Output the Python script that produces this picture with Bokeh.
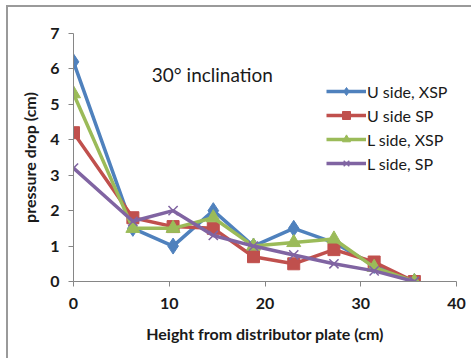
from bokeh.plotting import figure
from bokeh.models import Range1d, Label, Legend, LegendItem, FixedTicker
from bokeh.embed import file_html
from bokeh.resources import INLINE

height_cm = [0, 6.2, 10.4, 14.6, 18.8, 23.0, 27.2, 31.4, 35.6]
u_side_xsp = [6.2, 1.5, 1.0, 2.0, 1.0, 1.5, 1.1, 0.45, 0.0]
u_side_sp = [4.2, 1.8, 1.55, 1.5, 0.7, 0.5, 0.9, 0.55, 0.0]
l_side_xsp = [5.3, 1.5, 1.5, 1.8, 1.0, 1.1, 1.2, 0.4, 0.0]
l_side_sp = [3.2, 1.7, 2.0, 1.3, 1.0, 0.75, 0.5, 0.3, 0.0]
series_names = ["U side, XSP", "U side SP", "L side, XSP", "L side, SP"]
x_ticks = [0, 10, 20, 30, 40]
y_ticks = [0, 1, 2, 3, 4, 5, 6, 7]

FONT = "Lato"

p = figure(width=471, height=358, output_backend="svg", toolbar_location=None,
           x_range=Range1d(0, 40), y_range=Range1d(0, 7),
           min_border_left=73, min_border_right=15, min_border_top=33, min_border_bottom=77)
p.outline_line_color = None
p.xgrid.visible = False
p.ygrid.visible = False
p.border_fill_color = None
p.styles = {
    "background": "linear-gradient(#9a9a9a, #9a9a9a) 7px 5px / 480px 2px no-repeat, "
                  "linear-gradient(#9a9a9a, #9a9a9a) 6px 5px / 2px 400px no-repeat, #ffffff",
}

for ax in (p.xaxis[0], p.yaxis[0]):
    ax.axis_line_color = "#868686"
    ax.major_tick_line_color = "#868686"
    ax.minor_tick_line_color = None
    ax.major_tick_out = 5
    ax.major_tick_in = 0
    ax.major_label_text_font = FONT
    ax.major_label_text_font_style = "bold"
    ax.major_label_text_font_size = "16px"
    ax.major_label_text_color = "#1a1a1a"
    ax.axis_label_text_font = FONT
    ax.axis_label_text_font_style = "bold"
    ax.axis_label_text_font_size = "16px"
    ax.axis_label_text_color = "#1a1a1a"

p.xaxis.ticker = FixedTicker(ticks=x_ticks)
p.yaxis.ticker = FixedTicker(ticks=y_ticks)
p.xaxis.axis_label = "Height from distributor plate (cm)"
p.yaxis.axis_label = "pressure drop (cm)"
p.xaxis.major_label_standoff = 11
p.xaxis.axis_label_standoff = 12
p.yaxis.major_label_standoff = 9
p.yaxis.axis_label_standoff = 8

colors = ["#4F81BD", "#C0504D", "#9BBB59", "#8064A2"]
markers = ["diamond", "square", "triangle", "x"]
sizes = [16, 12, 14, 13]
data = [u_side_xsp, u_side_sp, l_side_xsp, l_side_sp]

items = []
for name, ys, c, m, s in zip(series_names, data, colors, markers, sizes):
    r1 = p.line(height_cm, ys, line_color=c, line_width=3.5)
    if m == "x":
        r2 = p.scatter(height_cm, ys, marker=m, size=s, line_color=c, line_width=1.5)
    else:
        r2 = p.scatter(height_cm, ys, marker=m, size=s, fill_color=c, line_color=c)
    items.append(LegendItem(label=name, renderers=[r1, r2]))

legend = Legend(items=items, location=(253, 108), padding=0, margin=0,
                glyph_width=40, glyph_height=20, label_height=20, spacing=4,
                label_standoff=1, border_line_color=None, background_fill_alpha=0,
                label_text_font=FONT, label_text_font_size="16px", label_text_color="#1a1a1a")
p.add_layout(legend)

p.add_layout(Label(x=14.5, y=5.84, text="30° inclination", text_align="center",
                   text_baseline="middle", text_font=FONT, text_font_size="19px",
                   text_color="#1a1a1a"))

open("out.html", "w").write(file_html(p, INLINE))
